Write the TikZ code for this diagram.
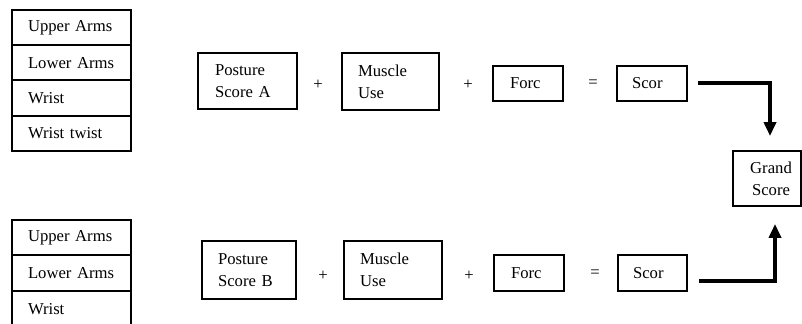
\documentclass[tikz,border=0pt]{standalone}
\usepackage{fontspec}
\setmainfont{Liberation Serif}
\usetikzlibrary{arrows.meta}

\begin{document}
\begin{tikzpicture}[x=0.75pt,y=-0.75pt,
  every node/.style={font=\fontsize{12.5}{16.5}\selectfont},
  cell/.style={draw,line width=1.4pt,minimum width=89.25pt,minimum height=26.5pt,
    inner xsep=12pt,text width=65.25pt,align=left},
  scorebox/.style={draw,line width=1.4pt,align=left,inner ysep=0pt},
  op/.style={inner sep=0pt},
  bigarrow/.style={line width=3pt,line join=miter,-{Triangle[width=9pt,length=10.5pt]}}
]
\useasboundingbox (0,0) rectangle (802,324);

% body-part tables
\node[cell] (ua1) at (71.5,27.6)  {\mbox{Upper Arms}};
\node[cell] (la1) at (71.5,62.9)  {\mbox{Lower Arms}};
\node[cell] (wr1) at (71.5,98.1)  {Wrist};
\node[cell] (wt1) at (71.5,133.4) {\mbox{Wrist twist}};

\node[cell] (ua2) at (71.5,237.7) {\mbox{Upper Arms}};
\node[cell] (la2) at (71.5,273.2) {\mbox{Lower Arms}};
\node[cell] (wr2) at (71.5,308.7) {Wrist};

% first scoring row
\node[scorebox,minimum width=74.25pt,minimum height=42pt,inner xsep=12.75pt,text width=48.75pt] (postA) at (247.5,81) {Posture\\Score A};
\node[op] (plA1) at (318,85) {+};
\node[scorebox,minimum width=72.75pt,minimum height=42.75pt,inner xsep=12pt,text width=48.75pt] (musA) at (390.5,81.5) {Muscle\\Use};
\node[op] (plA2) at (468,85) {+};
\node[scorebox,minimum width=52.5pt,minimum height=26.25pt,inner xsep=12.75pt,text width=27pt] (forA) at (528,83.5) {Forc};
\node[op] (eqA) at (593,84) {=};
\node[scorebox,minimum width=52.5pt,minimum height=26.25pt,inner xsep=11.25pt,text width=30pt] (scoA) at (652,83.5) {Scor};

% second scoring row
\node[scorebox,minimum width=70.5pt,minimum height=43.5pt,inner xsep=12pt,text width=46.5pt] (postB) at (249,270) {Posture\\Score B};
\node[op] (plB1) at (323,276) {+};
\node[scorebox,minimum width=73.5pt,minimum height=43.5pt,inner xsep=12pt,text width=49.5pt] (musB) at (393,270) {Muscle\\Use};
\node[op] (plB2) at (469,276) {+};
\node[scorebox,minimum width=52.5pt,minimum height=27pt,inner xsep=12.75pt,text width=27pt] (forB) at (529,273) {Forc};
\node[op] (eqB) at (595,274) {=};
\node[scorebox,minimum width=51.75pt,minimum height=27pt,inner xsep=11.25pt,text width=29.25pt] (scoB) at (652.5,273) {Scor};

% result
\node[draw,line width=1.4pt,minimum width=51pt,minimum height=41.25pt,align=center,inner sep=0pt] (grand) at (767,178.5) {};
\node[align=center,inner sep=0pt] (grandtxt) at (771,179) {Grand\\Score};

% connectors into the grand score
\draw[bigarrow,shorten >=10.5pt] ([xshift=7.5pt]scoA.east) -| ([xshift=2.25pt]grand.north);
\draw[bigarrow,shorten >=12.75pt] ([xshift=8.25pt,yshift=-6pt]scoB.east) -| ([xshift=6pt]grand.south);
\end{tikzpicture}
\end{document}
